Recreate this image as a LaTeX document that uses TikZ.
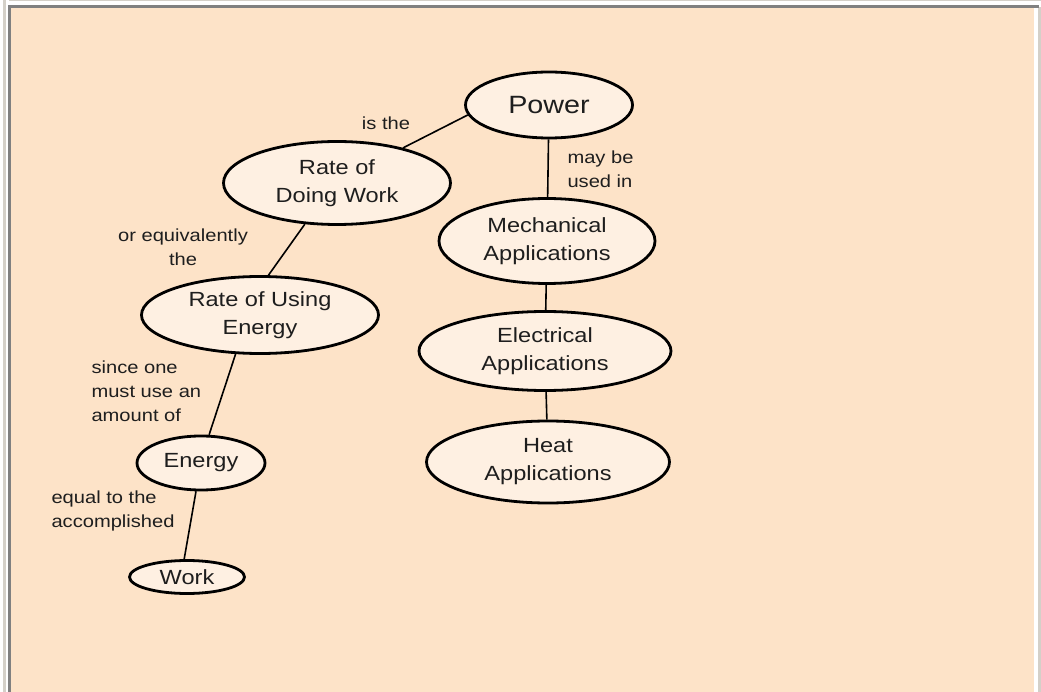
\documentclass[tikz,border=0pt]{standalone}
\usepackage{fontspec}
\setmainfont[FakeStretch=1.15]{Liberation Sans}
\usepackage{tikz}
\usetikzlibrary{shapes.geometric}
\definecolor{peach}{HTML}{FDE3C8}
\definecolor{pale}{HTML}{FEF0E2}
\definecolor{framelt}{HTML}{D4D0C8}
\definecolor{framedk}{HTML}{808080}
\definecolor{ink}{HTML}{1E1E1E}

\begin{document}
\begin{tikzpicture}[x=1pt, y=-1pt,
        every node/.style={font=\fontsize{17.5}{24}\selectfont, text=ink},
        concept/.style={ellipse, draw=black, line width=2.8pt, fill=pale, inner sep=0pt, align=center, font=\fontsize{20.5}{28}\selectfont},
        link/.style={line width=1.6pt}]
        \useasboundingbox (0,0) rectangle (1041,692);
        \fill[white] (0,0) rectangle (1041,692);
        \fill[framelt] (9,0) rectangle (1041,1.5);
        \fill[framelt] (3,0) rectangle (5.5,692);
        \fill[framelt] (1038,7) rectangle (1041,692);
        \fill[framedk] (8,5) rectangle (1039,8);
        \fill[framedk] (8,5) rectangle (11,692);
        \fill[peach] (11,8) rectangle (1034,692);
        \node[concept, minimum width=167pt, minimum height=66pt, font=\fontsize{25}{28}\selectfont] (pow) at (549,105) {Power};
        \node[concept, minimum width=227pt, minimum height=83pt] (doing) at (337,183) {Rate of\\Doing Work};
        \node[concept, minimum width=216pt, minimum height=85pt] (mech) at (547,241) {Mechanical\\Applications};
        \node[concept, minimum width=237pt, minimum height=77pt] (using) at (260,315) {Rate of Using\\Energy};
        \node[concept, minimum width=252pt, minimum height=79pt] (elec) at (545,351) {Electrical\\Applications};
        \node[concept, minimum width=243pt, minimum height=82pt] (heat) at (548,462) {Heat\\Applications};
        \node[concept, minimum width=128pt, minimum height=54pt] (energy) at (201,463) {Energy};
        \node[concept, minimum width=115pt, minimum height=33pt] (work) at (187,577) {Work};
        \node (isthe) at (386,123) {is the};
        \node[anchor=west, align=left] (mayb) at (564,169) {may be\\used in};
        \node[align=center] (oreq) at (183,247) {or equivalently\\the};
        \node[anchor=west, align=left] (since) at (88,391) {since one\\must use an\\amount of};
        \node[anchor=west, align=left] (equal) at (48,511) {equal to the\\accomplished};
        \draw[link] (pow.187) -- (doing.28);
        \draw[link] (pow) -- (mech);
        \draw[link] (doing.232) -- (using.78);
        \draw[link] (mech) -- (elec);
        \draw[link] (elec) -- (heat);
        \draw[link] (using.238) -- (energy.74);
        \draw[link] (energy.260) -- (work.99);
    \end{tikzpicture}
\end{document}
